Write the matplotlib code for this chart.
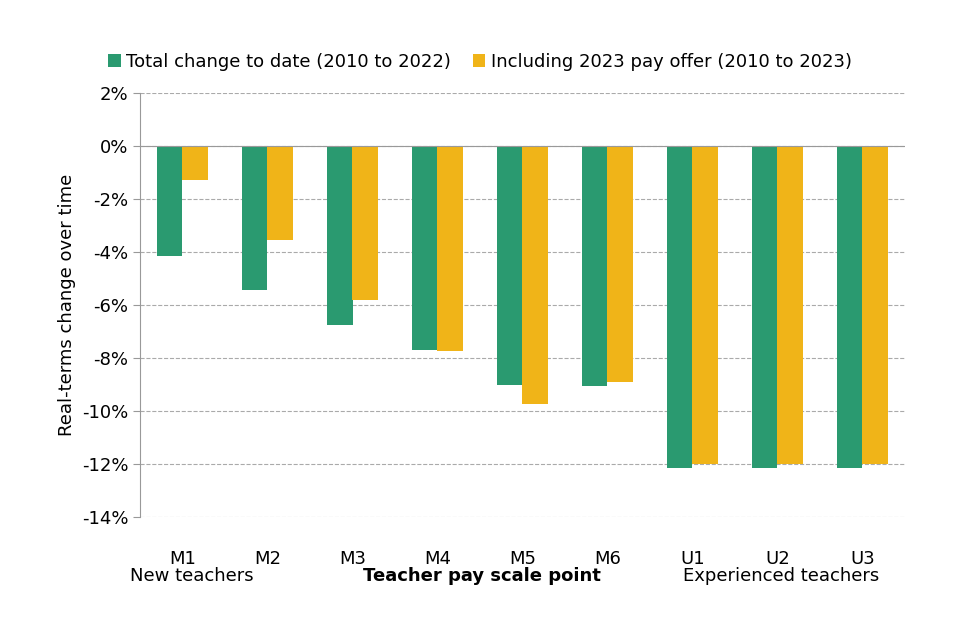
import matplotlib.pyplot as plt
import numpy as np

CATEGORIES = ["M1", "M2", "M3", "M4", "M5", "M6", "U1", "U2", "U3"]
TOTAL_TO_DATE = [-4.15, -5.45, -6.75, -7.7, -9.0, -9.05, -12.15, -12.15, -12.15]
WITH_2023_OFFER = [-1.3, -3.55, -5.8, -7.75, -9.75, -8.9, -12.0, -12.0, -12.0]

GREEN = "#2a9a70"
YELLOW = "#f0b418"

fig = plt.figure(figsize=(9.7, 6.39), dpi=100)
ax = fig.add_axes([140 / 970, 1 - 517 / 639, 765 / 970, 424 / 639])

x = np.arange(len(CATEGORIES))
w = 0.3
ax.bar(x - w / 2, TOTAL_TO_DATE, width=w, color=GREEN, label="Total change to date (2010 to 2022)")
ax.bar(x + w / 2, WITH_2023_OFFER, width=w, color=YELLOW, label="Including 2023 pay offer (2010 to 2023)")

ax.set_ylim(-14, 2)
ax.set_xlim(-0.5, len(CATEGORIES) - 0.5)
ax.set_yticks(range(-14, 3, 2))
ax.set_yticklabels([f"{v}%" for v in range(-14, 3, 2)], fontsize=13)
ax.set_xticks(x)
ax.set_xticklabels(CATEGORIES, fontsize=13)
ax.tick_params(axis="x", length=0, pad=24)
ax.tick_params(axis="y", length=5, color="#999999")
ax.grid(axis="y", linestyle="--", color="#aaaaaa", linewidth=0.8)
ax.set_axisbelow(True)
for s in ["top", "right", "bottom"]:
    ax.spines[s].set_visible(False)
ax.spines["left"].set_color("#999999")
ax.axhline(0, color="#999999", linewidth=0.8)
ax.set_ylabel("Real-terms change over time", fontsize=13)

fig.text(192 / 970, 1 - 576 / 639, "New teachers", ha="center", va="center", fontsize=13)
fig.text(482 / 970, 1 - 576 / 639, "Teacher pay scale point", ha="center", va="center", fontsize=13, fontweight="bold")
fig.text(781 / 970, 1 - 576 / 639, "Experienced teachers", ha="center", va="center", fontsize=13)

fig.legend(loc="center", bbox_to_anchor=(480 / 970, 1 - 62 / 639), ncol=2, frameon=False,
           fontsize=13, handlelength=0.7, handleheight=0.7, handletextpad=0.3, columnspacing=1.2)

fig.savefig("out.png", dpi=100)
